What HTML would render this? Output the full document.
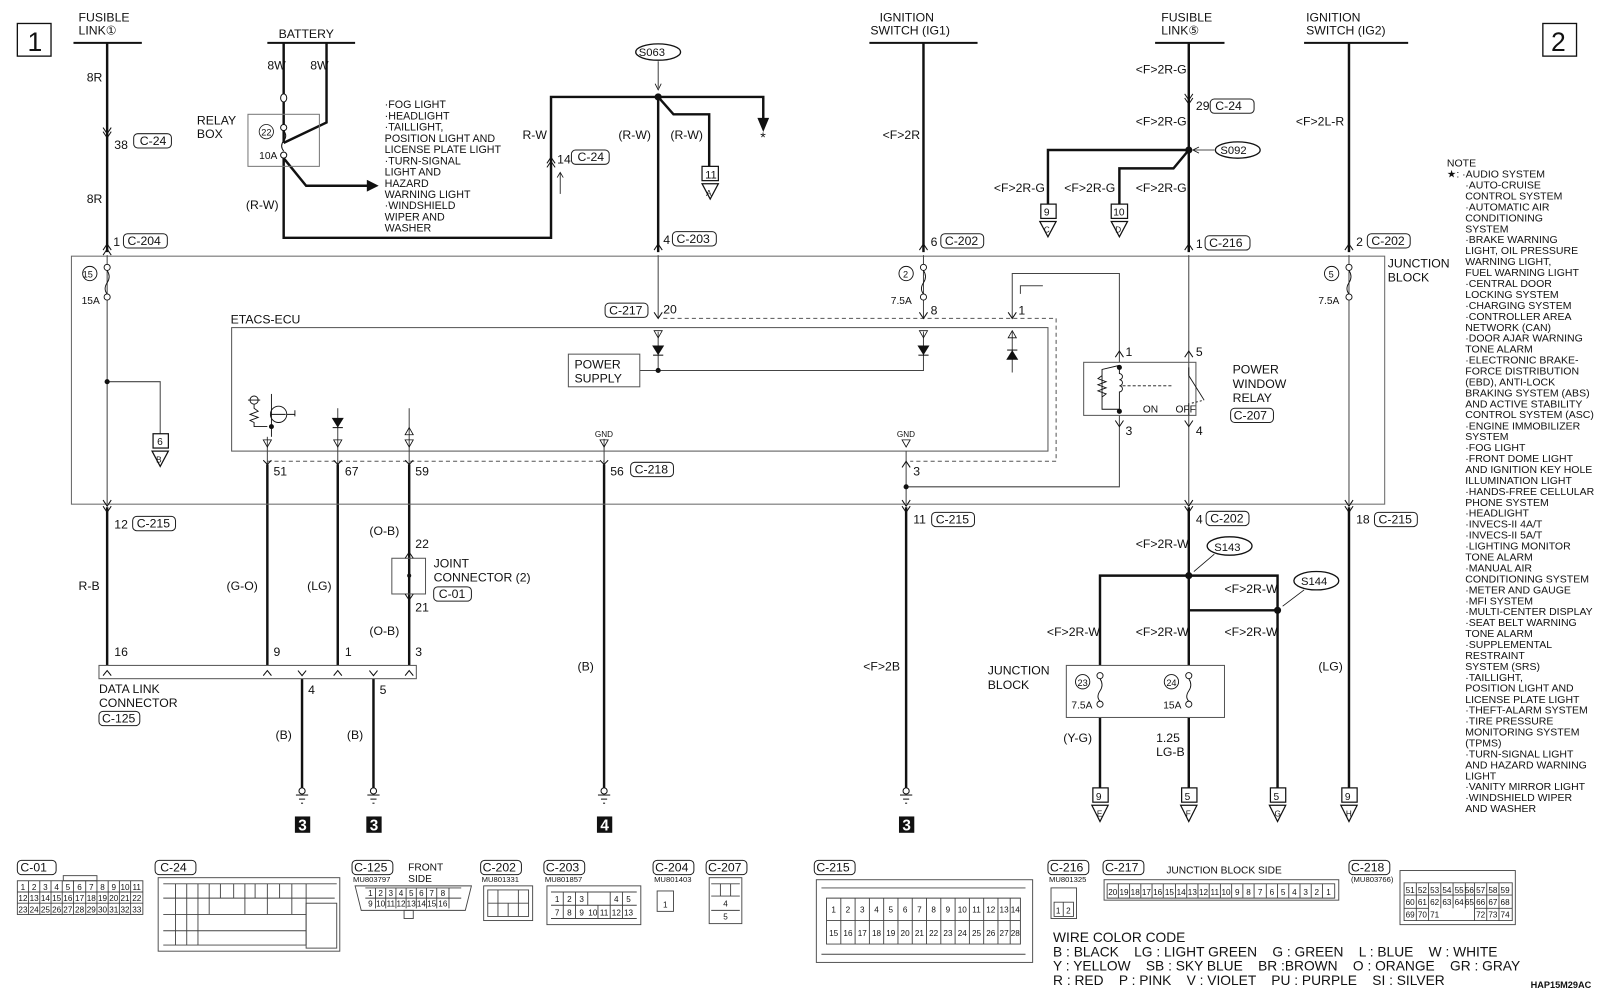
<!DOCTYPE html>
<html><head><meta charset="utf-8"><style>
html,body{margin:0;padding:0;background:#fff;}
svg{display:block;}
text{font-family:"Liberation Sans",sans-serif;fill:#111;white-space:pre;}
.t{font-size:12px;}
.s{font-size:10.5px;}
.b{font-weight:bold;}
.g text{font-size:8px;text-anchor:middle;}
</style></head><body>
<svg width="1600" height="992" viewBox="0 0 1568 972" preserveAspectRatio="none" xmlns="http://www.w3.org/2000/svg" xml:space="preserve">
<g stroke="#111" fill="none">
<rect x="17" y="23" width="33" height="32" stroke-width="1.3"/>
<rect x="1512" y="23" width="33" height="32" stroke-width="1.3"/>
<g stroke-width="2">
<line x1="72" y1="42" x2="139" y2="42"/>
<line x1="262" y1="42" x2="348" y2="42"/>
<line x1="852" y1="42" x2="958" y2="42"/>
<line x1="1132" y1="42" x2="1200" y2="42"/>
<line x1="1278" y1="42" x2="1380" y2="42"/>
</g>
<g stroke-width="2.4">
<line x1="105" y1="42" x2="105" y2="247"/>
<line x1="278" y1="42" x2="278" y2="140"/>
<polyline points="320,42 320,120 278,140"/>
<polyline points="278,155 278,233 540,233 540,95 748,95 748,118"/>
<polyline points="278,155 300,182 360,182"/>
<line x1="645" y1="95" x2="645" y2="247"/>
<polyline points="645,95 660,112 695,112 695,163"/>
<line x1="905" y1="42" x2="905" y2="247"/>
<line x1="1165" y1="42" x2="1165" y2="247"/>
<polyline points="1165,147 1027,147 1027,200"/>
<polyline points="1165,147 1150,165 1097,165 1097,200"/>
<line x1="1322" y1="42" x2="1322" y2="247"/>
<line x1="105" y1="497" x2="105" y2="652"/>
<line x1="262" y1="455" x2="262" y2="652"/>
<line x1="331" y1="455" x2="331" y2="652"/>
<line x1="401" y1="455" x2="401" y2="652"/>
<line x1="296" y1="665" x2="296" y2="772"/>
<line x1="366" y1="665" x2="366" y2="772"/>
<line x1="592" y1="455" x2="592" y2="772"/>
<line x1="888" y1="497" x2="888" y2="772"/>
<line x1="1165" y1="497" x2="1165" y2="652"/>
<polyline points="1078,652 1078,564 1252,564 1252,772"/>
<polyline points="1165,598 1252,598"/>
<line x1="1078" y1="703" x2="1078" y2="772"/>
<line x1="1165" y1="703" x2="1165" y2="772"/>
<line x1="1322" y1="497" x2="1322" y2="772"/>
</g>
<polygon points="360,177 370,182 360,187" fill="#111"/>
<polygon points="743,116 748,128 753,116" fill="#111"/>
<rect x="243" y="112" width="70" height="51" stroke="#777"/>
<ellipse cx="278" cy="96" rx="3" ry="4" stroke-width="1" fill="#fff"/>
<circle cx="278" cy="125" r="3" fill="#fff"/>
<circle cx="278" cy="152" r="3" fill="#fff"/>
<path d="M278,128 q4,5 0,10 q-4,5 0,10" />
<circle cx="261" cy="129" r="7" stroke-width="0.8"/>
<line x1="549" y1="190" x2="549" y2="170" stroke-width="0.8"/>
<path d="M546,174 L549,169 L552,174" stroke-width="0.8"/>
<ellipse cx="645" cy="51" rx="22" ry="8" stroke-width="1.3"/>
<line x1="645" y1="60" x2="645" y2="86" stroke-width="0.8"/>
<path d="M642,82 L645,88 L648,82" stroke-width="0.8"/>
<circle cx="645" cy="95" r="3" fill="#111"/>
<rect x="688" y="163" width="16" height="14" stroke-width="1.2"/>
<polygon points="688,180 704,180 696,195" stroke-width="1.2"/>
<rect x="70" y="251" width="1287" height="243" stroke="#666" stroke-width="1"/>
<rect x="227" y="321" width="800" height="121" stroke="#555"/>
<g stroke-dasharray="4,3" stroke="#555">
<polyline points="650,312 1035,312 1035,452 892,452"/>
<polyline points="262,452 592,452"/>
</g>
<g stroke="#444" stroke-width="1">
<line x1="105" y1="250" x2="105" y2="494"/>
<polyline points="105,374 157,374 157,425"/>
<line x1="645" y1="250" x2="645" y2="312"/>
<line x1="905" y1="250" x2="905" y2="312"/>
<line x1="645" y1="325" x2="645" y2="363"/>
<polyline points="627,363 905,363 905,325"/>
<polyline points="992,312 992,268 1097,268 1097,355"/>
<polyline points="1000,288 1000,280 1022,280"/>
<line x1="1165" y1="250" x2="1165" y2="494"/>
<line x1="1322" y1="250" x2="1322" y2="494"/>
<polyline points="1097,407 1097,477 888,477"/>
<line x1="888" y1="442" x2="888" y2="494"/>
<line x1="262" y1="428" x2="262" y2="455"/>
<line x1="331" y1="400" x2="331" y2="455"/>
<line x1="401" y1="400" x2="401" y2="455"/>
<line x1="592" y1="430" x2="592" y2="455"/>
<line x1="992" y1="325" x2="992" y2="365"/>
</g>
<circle cx="105" cy="374" r="2" fill="#111"/>
<circle cx="645" cy="363" r="2" fill="#111"/>
<circle cx="888" cy="477" r="2" fill="#111"/>
<g stroke-width="0.9" fill="#fff">
<circle cx="105" cy="262" r="3"/><circle cx="105" cy="291" r="3"/>
<circle cx="905" cy="262" r="3"/><circle cx="905" cy="291" r="3"/>
<circle cx="1322" cy="262" r="3"/><circle cx="1322" cy="291" r="3"/>
<circle cx="88" cy="268" r="7" fill="none"/>
<circle cx="888" cy="268" r="7" fill="none"/>
<circle cx="1305" cy="268" r="7" fill="none"/>
</g>
<g stroke-width="0.9">
<path d="M105,265 q4,6 0,12 q-4,6 0,11"/>
<path d="M905,265 q4,6 0,12 q-4,6 0,11"/>
<path d="M1322,265 q4,6 0,12 q-4,6 0,11"/>
</g>
<polygon points="640,339 650,339 645,347" fill="#111"/><line x1="640" y1="348" x2="650" y2="348"/>
<polygon points="900,339 910,339 905,347" fill="#111"/><line x1="900" y1="348" x2="910" y2="348"/>
<polygon points="987,352 997,352 992,344" fill="#111"/><line x1="987" y1="343" x2="997" y2="343"/>
<polygon points="326,410 336,410 331,418" fill="#111"/><line x1="326" y1="419" x2="336" y2="419"/>
<g stroke-width="0.8">
<polygon points="641,324 649,324 645,331"/><polygon points="901,324 909,324 905,331"/>
<polygon points="988,331 996,331 992,324"/>
<polygon points="258,431 266,431 262,438"/><polygon points="327,431 335,431 331,438"/>
<polygon points="397,431 405,431 401,438"/><polygon points="397,426 405,426 401,419"/>
<polygon points="588,431 596,431 592,438"/><polygon points="884,431 892,431 888,438"/>
</g>
<g stroke-width="0.9">
<circle cx="249" cy="392" r="4"/>
<line x1="243" y1="392" x2="255" y2="392"/>
<path d="M249,396 v4 l4,3 l-8,3 l8,3 l-8,3 l4,2 v4 h13"/>
<line x1="266" y1="386" x2="266" y2="428"/>
<circle cx="273" cy="406" r="8"/>
<path d="M266,406 h14 M281,406 h8 M289,402 v6"/>
<circle cx="266" cy="418" r="2" fill="#111"/>
</g>
<rect x="557" y="347" width="70" height="32" stroke="#555"/>
<rect x="1062" y="355" width="110" height="52" stroke="#555"/>
<g stroke-width="0.9">
<polyline points="1097,358 1080,362 1080,401 1097,401"/>
<path d="M1080,368 l-4,3 l8,3 l-8,3 l8,3 l-8,3 l8,3 l-4,3"/>
<path d="M1097,362 v4 a3,3 0 0,1 0,6 a3,3 0 0,1 0,6 a3,3 0 0,1 0,6 v17"/>
<line x1="1100" y1="378" x2="1150" y2="378" stroke-dasharray="3,2"/>
<line x1="1165" y1="360" x2="1165" y2="368"/><line x1="1165" y1="368" x2="1180" y2="392"/>
<line x1="1165" y1="395" x2="1165" y2="407"/>
<line x1="1168" y1="395" x2="1180" y2="392" stroke-dasharray="2,2"/>
</g>
<circle cx="1097" cy="360" r="2" fill="#111"/><circle cx="1097" cy="403" r="2" fill="#111"/>
<ellipse cx="1213" cy="147" rx="22" ry="8" stroke-width="1.3"/>
<line x1="1190" y1="147" x2="1170" y2="147" stroke-width="0.8"/>
<path d="M1175,144 L1169,147 L1175,150" stroke-width="0.8"/>
<circle cx="1165" cy="147" r="3" fill="#111"/>
<rect x="1020" y="200" width="15" height="14" stroke-width="1.2"/>
<polygon points="1019,217 1035,217 1027,232" stroke-width="1.2"/>
<rect x="1089" y="200" width="16" height="14" stroke-width="1.2"/>
<polygon points="1089,217 1105,217 1097,232" stroke-width="1.2"/>
<rect x="150" y="425" width="15" height="14" stroke-width="1.2"/>
<polygon points="149,442 165,442 157,457" stroke-width="1.2"/>
<rect x="97" y="652" width="311" height="13" stroke="#555"/>
<rect x="384" y="547" width="33" height="35" stroke="#555"/>
<circle cx="401" cy="564" r="1.5" fill="#111"/>
<ellipse cx="1205" cy="535" rx="22" ry="9" stroke-width="1.3"/>
<line x1="1190" y1="543" x2="1170" y2="560" stroke-width="0.8"/>
<ellipse cx="1290" cy="569" rx="22" ry="9" stroke-width="1.3"/>
<line x1="1278" y1="578" x2="1257" y2="594" stroke-width="0.8"/>
<circle cx="1165" cy="564" r="3" fill="#111"/><circle cx="1252" cy="598" r="3" fill="#111"/>
<rect x="1045" y="652" width="155" height="51" stroke="#555"/>
<g stroke-width="0.9" fill="#fff">
<circle cx="1078" cy="662" r="3"/><circle cx="1078" cy="690" r="3"/>
<circle cx="1165" cy="662" r="3"/><circle cx="1165" cy="690" r="3"/>
<circle cx="1061" cy="668" r="7" fill="none"/><circle cx="1148" cy="668" r="7" fill="none"/>
</g>
<path d="M1078,665 q4,6 0,12 q-4,6 0,10" stroke-width="0.9"/>
<path d="M1165,665 q4,6 0,12 q-4,6 0,10" stroke-width="0.9"/>
<g stroke-width="1.2">
<rect x="1071" y="772" width="15" height="14"/><polygon points="1070,789 1086,789 1078,805"/>
<rect x="1158" y="772" width="15" height="14"/><polygon points="1157,789 1173,789 1165,805"/>
<rect x="1245" y="772" width="15" height="14"/><polygon points="1244,789 1260,789 1252,805"/>
<rect x="1315" y="772" width="15" height="14"/><polygon points="1314,789 1330,789 1322,805"/>
</g>
<g stroke-width="1">
<circle cx="296" cy="775" r="3"/><line x1="290" y1="779" x2="302" y2="779"/><line x1="293" y1="783" x2="299" y2="783"/><line x1="295" y1="787" x2="297" y2="787"/>
<circle cx="366" cy="775" r="3"/><line x1="360" y1="779" x2="372" y2="779"/><line x1="363" y1="783" x2="369" y2="783"/><line x1="365" y1="787" x2="367" y2="787"/>
<circle cx="592" cy="775" r="3"/><line x1="586" y1="779" x2="598" y2="779"/><line x1="589" y1="783" x2="595" y2="783"/><line x1="591" y1="787" x2="593" y2="787"/>
<circle cx="888" cy="775" r="3"/><line x1="882" y1="779" x2="894" y2="779"/><line x1="885" y1="783" x2="891" y2="783"/><line x1="887" y1="787" x2="889" y2="787"/>
</g>
<g stroke-width="1">
<path d="M101,245 L105,239 L109,245 M101,250 L105,244 L109,250"/>
<path d="M641,245 L645,239 L649,245"/>
<path d="M901,245 L905,239 L909,245"/>
<path d="M1161,245 L1165,239 L1169,245"/>
<path d="M1318,245 L1322,239 L1326,245"/>
<path d="M101,125 L105,131 L109,125 M101,129 L105,135 L109,129"/>
<path d="M1161,92 L1165,98 L1169,92 M1161,96 L1165,102 L1169,96"/>
<path d="M536,160 L540,154 L544,160 M536,164 L540,158 L544,164"/>
<path d="M641,306 L645,312 L649,306"/><path d="M901,306 L905,312 L909,306"/><path d="M988,306 L992,312 L996,306"/>
<path d="M1093,350 L1097,344 L1101,350"/><path d="M1161,350 L1165,344 L1169,350"/>
<path d="M1093,412 L1097,418 L1101,412"/><path d="M1161,412 L1165,418 L1169,412"/>
<path d="M884,458 L888,452 L892,458"/>
<path d="M101,490 L105,496 L109,490 M101,496 L105,502 L109,496"/>
<path d="M884,490 L888,496 L892,490 M884,496 L888,502 L892,496"/>
<path d="M1161,490 L1165,496 L1169,490 M1161,496 L1165,502 L1169,496"/>
<path d="M1318,490 L1322,496 L1326,490 M1318,496 L1322,502 L1326,496"/>
<path d="M258,451 L262,455 L266,451"/><path d="M327,451 L331,455 L335,451"/><path d="M397,451 L401,455 L405,451"/><path d="M588,451 L592,455 L596,451"/>
<path d="M397,547 L401,541 L405,547"/><path d="M397,582 L401,588 L405,582"/>
<path d="M101,662 L105,657 L109,662"/><path d="M258,662 L262,657 L266,662"/><path d="M327,662 L331,657 L335,662"/><path d="M397,662 L401,657 L405,662"/>
<path d="M292,657 L296,662 L300,657"/><path d="M362,657 L366,662 L370,657"/>
</g>
<g stroke-width="1" stroke="#222">
<rect x="131" y="131" width="37" height="14" rx="4"/>
<rect x="121" y="229" width="43" height="14" rx="4"/>
<rect x="560" y="147" width="37" height="14" rx="4"/>
<rect x="659" y="227" width="43" height="14" rx="4"/>
<rect x="593" y="297" width="42" height="14" rx="4"/>
<rect x="922" y="229" width="42" height="14" rx="4"/>
<rect x="1186" y="97" width="43" height="14" rx="4"/>
<rect x="1181" y="231" width="44" height="14" rx="4"/>
<rect x="1340" y="229" width="42" height="14" rx="4"/>
<rect x="1206" y="400" width="42" height="14" rx="4"/>
<rect x="618" y="453" width="42" height="14" rx="4"/>
<rect x="130" y="506" width="42" height="14" rx="4"/>
<rect x="425" y="575" width="37" height="14" rx="4"/>
<rect x="97" y="697" width="40" height="14" rx="4"/>
<rect x="913" y="502" width="42" height="14" rx="4"/>
<rect x="1182" y="501" width="42" height="14" rx="4"/>
<rect x="1347" y="502" width="42" height="14" rx="4"/>
<rect x="17" y="843" width="38" height="14" rx="4"/>
<rect x="152" y="843" width="40" height="14" rx="4"/>
<rect x="345" y="843" width="40" height="14" rx="4"/>
<rect x="471" y="843" width="40" height="14" rx="4"/>
<rect x="533" y="843" width="40" height="14" rx="4"/>
<rect x="640" y="843" width="40" height="14" rx="4"/>
<rect x="692" y="843" width="40" height="14" rx="4"/>
<rect x="798" y="843" width="40" height="14" rx="4"/>
<rect x="1027" y="843" width="40" height="14" rx="4"/>
<rect x="1081" y="843" width="40" height="14" rx="4"/>
<rect x="1322" y="843" width="40" height="14" rx="4"/>
</g>
<g stroke="#444" stroke-width="0.9">
<rect x="17" y="863" width="123" height="33"/>
<path d="M17,874 H140 M17,885 H140 M28,863 V896 M39,863 V896 M50,863 V896 M61,863 V896 M72,863 V896 M84,863 V896 M95,863 V896 M106,863 V896 M117,863 V896 M128,863 V896"/>
<rect x="62" y="858" width="33" height="5"/>
<rect x="155" y="860" width="178" height="72"/>
<path d="M160,866 H330 M160,880 H328 M160,896 H300 M160,912 H300 M160,926 H300 M172,866 V926 M183,866 V926 M194,866 V926 M205,866 V896 M216,866 V880 M229,866 V880 M240,866 V896 M250,866 V880 M262,866 V896 M274,866 V880 M286,866 V896 M300,866 V926"/>
<rect x="300" y="885" width="30" height="44"/>
<path d="M348,868 H462 L456,892 H354 Z"/>
<path d="M358,870 H452 M358,880 H452 M368,870 V890 M378,870 V890 M388,870 V890 M398,870 V890 M408,870 V890 M418,870 V890 M428,870 V890 M440,870 V890"/>
<rect x="396" y="892" width="9" height="8"/>
<rect x="474" y="868" width="48" height="34"/>
<path d="M478,872 H518 V898 H478 Z M478,885 H518 M488,872 V898 M498,885 V898 M508,872 V898"/>
<rect x="536" y="868" width="92" height="38"/>
<path d="M540,874 H624 M540,887 H624 M540,900 H624 M552,874 V900 M564,874 V900 M576,874 V887 M598,874 V900 M610,874 V900 M586,887 V900"/>
<rect x="644" y="873" width="16" height="20"/>
<rect x="695" y="860" width="32" height="45"/>
<path d="M697,866 H725 M697,878 H725 M697,892 H725 M706,866 V878 M716,866 V878"/>
<rect x="800" y="862" width="212" height="81"/>
<path d="M805,870 H1005 M805,935 H1005 M810,880 H1000 V925 H810 Z M810,902 H1000 M824,880 V925 M838,880 V925 M852,880 V925 M866,880 V925 M880,880 V925 M894,880 V925 M908,880 V925 M922,880 V925 M936,880 V925 M950,880 V925 M964,880 V925 M978,880 V925 M990,880 V925"/>
<rect x="1030" y="870" width="25" height="30"/>
<path d="M1033,884 H1052 V898 H1033 Z M1042,884 V898"/>
<rect x="1082" y="862" width="230" height="20"/>
<path d="M1085,866 H1308 V880 H1085 Z M1096,866 V880 M1107,866 V880 M1118,866 V880 M1129,866 V880 M1140,866 V880 M1152,866 V880 M1163,866 V880 M1174,866 V880 M1185,866 V880 M1196,866 V880 M1207,866 V880 M1218,866 V880 M1229,866 V880 M1241,866 V880 M1252,866 V880 M1263,866 V880 M1274,866 V880 M1285,866 V880 M1296,866 V880"/>
<rect x="1372" y="853" width="113" height="53"/>
<path d="M1376,865 H1482 V902 H1376 Z M1376,877 H1482 M1376,890 H1400 M1445,890 H1482 M1388,865 V902 M1400,865 V902 M1412,865 V890 M1424,865 V890 M1436,865 V890 M1445,865 V902 M1457,865 V902 M1469,865 V902"/>
</g>
</g>
<!-- connector numbers -->
<g class="g">
<text x="22.5" y="872">1</text><text x="33.5" y="872">2</text><text x="44.5" y="872">3</text><text x="55.5" y="872">4</text><text x="66.5" y="872">5</text><text x="78" y="872">6</text><text x="89.5" y="872">7</text><text x="100.5" y="872">8</text><text x="111.5" y="872">9</text><text x="122.5" y="872">10</text><text x="134" y="872">11</text>
<text x="22.5" y="883">12</text><text x="33.5" y="883">13</text><text x="44.5" y="883">14</text><text x="55.5" y="883">15</text><text x="66.5" y="883">16</text><text x="78" y="883">17</text><text x="89.5" y="883">18</text><text x="100.5" y="883">19</text><text x="111.5" y="883">20</text><text x="122.5" y="883">21</text><text x="134" y="883">22</text>
<text x="22.5" y="894">23</text><text x="33.5" y="894">24</text><text x="44.5" y="894">25</text><text x="55.5" y="894">26</text><text x="66.5" y="894">27</text><text x="78" y="894">28</text><text x="89.5" y="894">29</text><text x="100.5" y="894">30</text><text x="111.5" y="894">31</text><text x="122.5" y="894">32</text><text x="134" y="894">33</text>
<text x="817" y="894">1</text><text x="831" y="894">2</text><text x="845" y="894">3</text><text x="859" y="894">4</text><text x="873" y="894">5</text><text x="887" y="894">6</text><text x="901" y="894">7</text><text x="915" y="894">8</text><text x="929" y="894">9</text><text x="943" y="894">10</text><text x="957" y="894">11</text><text x="971" y="894">12</text><text x="984" y="894">13</text><text x="995" y="894">14</text>
<text x="817" y="917">15</text><text x="831" y="917">16</text><text x="845" y="917">17</text><text x="859" y="917">18</text><text x="873" y="917">19</text><text x="887" y="917">20</text><text x="901" y="917">21</text><text x="915" y="917">22</text><text x="929" y="917">23</text><text x="943" y="917">24</text><text x="957" y="917">25</text><text x="971" y="917">26</text><text x="984" y="917">27</text><text x="995" y="917">28</text>
<text x="1090.5" y="877">20</text><text x="1101.5" y="877">19</text><text x="1112.5" y="877">18</text><text x="1123.5" y="877">17</text><text x="1134.5" y="877">16</text><text x="1146" y="877">15</text><text x="1157.5" y="877">14</text><text x="1168.5" y="877">13</text><text x="1179.5" y="877">12</text><text x="1190.5" y="877">11</text><text x="1201.5" y="877">10</text><text x="1212.5" y="877">9</text><text x="1223.5" y="877">8</text><text x="1235" y="877">7</text><text x="1246.5" y="877">6</text><text x="1257.5" y="877">5</text><text x="1268.5" y="877">4</text><text x="1279.5" y="877">3</text><text x="1290.5" y="877">2</text><text x="1302" y="877">1</text>
<text x="1382" y="875">51</text><text x="1394" y="875">52</text><text x="1406" y="875">53</text><text x="1418" y="875">54</text><text x="1430" y="875">55</text><text x="1440" y="875">56</text><text x="1451" y="875">57</text><text x="1463" y="875">58</text><text x="1475" y="875">59</text>
<text x="1382" y="887">60</text><text x="1394" y="887">61</text><text x="1406" y="887">62</text><text x="1418" y="887">63</text><text x="1430" y="887">64</text><text x="1440" y="887">65</text><text x="1451" y="887">66</text><text x="1463" y="887">67</text><text x="1475" y="887">68</text>
<text x="1382" y="899">69</text><text x="1394" y="899">70</text><text x="1406" y="899">71</text><text x="1451" y="899">72</text><text x="1463" y="899">73</text><text x="1475" y="899">74</text>
<text x="363" y="878">1</text><text x="373" y="878">2</text><text x="383" y="878">3</text><text x="393" y="878">4</text><text x="403" y="878">5</text><text x="413" y="878">6</text><text x="423" y="878">7</text><text x="434" y="878">8</text>
<text x="363" y="888">9</text><text x="373" y="888">10</text><text x="383" y="888">11</text><text x="393" y="888">12</text><text x="403" y="888">13</text><text x="413" y="888">14</text><text x="423" y="888">15</text><text x="434" y="888">16</text>
<text x="546" y="884">1</text><text x="558" y="884">2</text><text x="570" y="884">3</text><text x="604" y="884">4</text><text x="616" y="884">5</text><text x="620" y="884"></text>
<text x="546" y="897">7</text><text x="558" y="897">8</text><text x="570" y="897">9</text><text x="581" y="897">10</text><text x="592" y="897">11</text><text x="604" y="897">12</text><text x="616" y="897">13</text>
<text x="711" y="888">4</text><text x="711" y="901">5</text><text x="652" y="889">1</text>
<text x="1037" y="895">1</text><text x="1047" y="895">2</text>
</g>
<g>
<rect x="289" y="800" width="15" height="16" fill="#111"/><text x="296.5" y="814" class="b" font-size="15" text-anchor="middle" style="fill:#fff">3</text>
<rect x="359" y="800" width="15" height="16" fill="#111"/><text x="366.5" y="814" class="b" font-size="15" text-anchor="middle" style="fill:#fff">3</text>
<rect x="585" y="800" width="15" height="16" fill="#111"/><text x="592.5" y="814" class="b" font-size="15" text-anchor="middle" style="fill:#fff">4</text>
<rect x="881" y="800" width="15" height="16" fill="#111"/><text x="888.5" y="814" class="b" font-size="15" text-anchor="middle" style="fill:#fff">3</text>
</g>
<g class="t">
<text x="27" y="50" font-size="26">1</text>
<text x="1520" y="50" font-size="26">2</text>
<text x="77" y="21">FUSIBLE</text><text x="77" y="34">LINK①</text>
<text x="273" y="37">BATTERY</text>
<text x="862" y="21">IGNITION</text><text x="853" y="34">SWITCH (IG1)</text>
<text x="1138" y="21">FUSIBLE</text><text x="1138" y="34">LINK⑤</text>
<text x="1280" y="21">IGNITION</text><text x="1280" y="34">SWITCH (IG2)</text>
<text x="85" y="80">8R</text><text x="85" y="199">8R</text>
<text x="112" y="146">38</text><text x="137" y="142">C-24</text>
<text x="111" y="241">1</text><text x="125" y="240">C-204</text>
<text x="262" y="68">8W</text><text x="304" y="68">8W</text>
<text x="193" y="122">RELAY</text><text x="193" y="135">BOX</text>
<text x="256" y="133" font-size="9">22</text><text x="254" y="156" font-size="10">10A</text>
<text x="241" y="205">(R-W)</text>
<text x="512" y="136">R-W</text>
<text x="606" y="136">(R-W)</text><text x="657" y="136">(R-W)</text>
<text x="546" y="160">14</text><text x="566" y="158">C-24</text>
<text x="691" y="175" font-size="11">11</text><text x="692" y="192" font-size="8">A</text>
<text x="745" y="139" font-size="14">*</text>
<text x="650" y="239">4</text><text x="663" y="238">C-203</text>
<text x="597" y="308">C-217</text><text x="650" y="307">20</text>
<text x="226" y="317">ETACS-ECU</text>
<text x="563" y="361">POWER</text><text x="563" y="375">SUPPLY</text>
<text x="81" y="272" font-size="9">15</text><text x="80" y="298" font-size="10">15A</text>
<text x="154" y="436" font-size="10">6</text><text x="153" y="453" font-size="8">B</text>
<text x="583" y="428" font-size="8">GND</text><text x="879" y="428" font-size="8">GND</text>
<text x="268" y="466">51</text><text x="338" y="466">67</text><text x="407" y="466">59</text>
<text x="598" y="466">56</text><text x="622" y="464">C-218</text>
<text x="865" y="136">&lt;F&gt;2R</text>
<text x="912" y="241">6</text><text x="926" y="240">C-202</text>
<text x="885" y="272" font-size="9">2</text><text x="873" y="298" font-size="10">7.5A</text>
<text x="912" y="308">8</text><text x="998" y="308">1</text>
<text x="1113" y="72">&lt;F&gt;2R-G</text><text x="1113" y="123">&lt;F&gt;2R-G</text>
<text x="1172" y="108">29</text><text x="1191" y="108">C-24</text>
<text x="1196" y="151" font-size="11">S092</text>
<text x="974" y="188">&lt;F&gt;2R-G</text><text x="1043" y="188">&lt;F&gt;2R-G</text><text x="1113" y="188">&lt;F&gt;2R-G</text>
<text x="1023" y="211" font-size="10">9</text><text x="1023" y="228" font-size="8">C</text>
<text x="1091" y="211" font-size="10">10</text><text x="1093" y="228" font-size="8">D</text>
<text x="1172" y="243">1</text><text x="1185" y="242">C-216</text>
<text x="1270" y="123">&lt;F&gt;2L-R</text>
<text x="1329" y="241">2</text><text x="1344" y="240">C-202</text>
<text x="1302" y="272" font-size="9">5</text><text x="1292" y="298" font-size="10">7.5A</text>
<text x="1360" y="262">JUNCTION</text><text x="1360" y="276">BLOCK</text>
<text x="1103" y="349">1</text><text x="1172" y="349">5</text>
<text x="1208" y="366">POWER</text><text x="1208" y="380">WINDOW</text><text x="1208" y="394">RELAY</text>
<text x="1120" y="404" font-size="10">ON</text><text x="1152" y="404" font-size="10">OFF</text>
<text x="1209" y="411">C-207</text>
<text x="1103" y="426">3</text><text x="1172" y="426">4</text>
<text x="895" y="466">3</text>
<text x="626" y="55" font-size="11">S063</text>
<text x="112" y="518">12</text><text x="134" y="517">C-215</text>
<text x="77" y="578">R-B</text>
<text x="222" y="578">(G-O)</text><text x="301" y="578">(LG)</text>
<text x="362" y="524">(O-B)</text><text x="407" y="537">22</text>
<text x="425" y="556">JOINT</text><text x="425" y="570">CONNECTOR (2)</text><text x="430" y="586">C-01</text>
<text x="407" y="599">21</text><text x="362" y="622">(O-B)</text>
<text x="112" y="643">16</text><text x="268" y="643">9</text><text x="338" y="643">1</text><text x="407" y="643">3</text>
<text x="97" y="679">DATA LINK</text><text x="97" y="693">CONNECTOR</text><text x="100" y="708">C-125</text>
<text x="302" y="680">4</text><text x="372" y="680">5</text>
<text x="270" y="724">(B)</text><text x="340" y="724">(B)</text>
<text x="566" y="657">(B)</text>
<text x="895" y="513">11</text><text x="917" y="513">C-215</text>
<text x="846" y="657">&lt;F&gt;2B</text>
<text x="1172" y="513">4</text><text x="1186" y="512">C-202</text>
<text x="1113" y="537">&lt;F&gt;2R-W</text>
<text x="1190" y="540" font-size="11">S143</text>
<text x="1200" y="581">&lt;F&gt;2R-W</text>
<text x="1275" y="573" font-size="11">S144</text>
<text x="1026" y="623">&lt;F&gt;2R-W</text><text x="1113" y="623">&lt;F&gt;2R-W</text><text x="1200" y="623">&lt;F&gt;2R-W</text>
<text x="968" y="661">JUNCTION</text><text x="968" y="675">BLOCK</text>
<text x="1056" y="672" font-size="9">23</text><text x="1143" y="672" font-size="9">24</text>
<text x="1050" y="694" font-size="10">7.5A</text><text x="1140" y="694" font-size="10">15A</text>
<text x="1042" y="727">(Y-G)</text>
<text x="1133" y="727">1.25</text><text x="1133" y="741">LG-B</text>
<text x="1329" y="513">18</text><text x="1351" y="513">C-215</text>
<text x="1292" y="657">(LG)</text>
<text x="1074" y="784" font-size="10">9</text><text x="1161" y="784" font-size="10">5</text><text x="1248" y="784" font-size="10">5</text><text x="1318" y="784" font-size="10">9</text>
<text x="1075" y="800" font-size="8">E</text><text x="1162" y="800" font-size="8">F</text><text x="1249" y="800" font-size="8">G</text><text x="1319" y="800" font-size="8">H</text>
</g>
<g class="s" font-size="10">
<text x="377" y="106">·FOG LIGHT</text><text x="377" y="117">·HEADLIGHT</text><text x="377" y="128">·TAILLIGHT,</text>
<text x="377" y="139">POSITION LIGHT AND</text><text x="377" y="150">LICENSE PLATE LIGHT</text><text x="377" y="161">·TURN-SIGNAL</text>
<text x="377" y="172">LIGHT AND</text><text x="377" y="183">HAZARD</text><text x="377" y="194">WARNING LIGHT</text>
<text x="377" y="205">·WINDSHIELD</text><text x="377" y="216">WIPER AND</text><text x="377" y="227">WASHER</text>
</g>
<g font-size="10.3">
<text x="1418" y="163">NOTE</text>
<text x="1418" y="174">★: ·AUDIO SYSTEM</text>
<text x="1436" y="184.7">·AUTO-CRUISE</text><text x="1436" y="195.4">CONTROL SYSTEM</text><text x="1436" y="206.2">·AUTOMATIC AIR</text><text x="1436" y="216.9">CONDITIONING</text><text x="1436" y="227.6">SYSTEM</text><text x="1436" y="238.3">·BRAKE WARNING</text><text x="1436" y="249">LIGHT, OIL PRESSURE</text><text x="1436" y="259.8">WARNING LIGHT,</text><text x="1436" y="270.5">FUEL WARNING LIGHT</text><text x="1436" y="281.2">·CENTRAL DOOR</text><text x="1436" y="291.9">LOCKING SYSTEM</text><text x="1436" y="302.6">·CHARGING SYSTEM</text><text x="1436" y="313.4">·CONTROLLER AREA</text><text x="1436" y="324.1">NETWORK (CAN)</text><text x="1436" y="334.8">·DOOR AJAR WARNING</text><text x="1436" y="345.5">TONE ALARM</text><text x="1436" y="356.2">·ELECTRONIC BRAKE-</text><text x="1436" y="367">FORCE DISTRIBUTION</text><text x="1436" y="377.7">(EBD), ANTI-LOCK</text><text x="1436" y="388.4">BRAKING SYSTEM (ABS)</text><text x="1436" y="399.1">AND ACTIVE STABILITY</text><text x="1436" y="409.8">CONTROL SYSTEM (ASC)</text><text x="1436" y="420.6">·ENGINE IMMOBILIZER</text><text x="1436" y="431.3">SYSTEM</text><text x="1436" y="442">·FOG LIGHT</text><text x="1436" y="452.7">·FRONT DOME LIGHT</text><text x="1436" y="463.4">AND IGNITION KEY HOLE</text><text x="1436" y="474.2">ILLUMINATION LIGHT</text><text x="1436" y="484.9">·HANDS-FREE CELLULAR</text><text x="1436" y="495.6">PHONE SYSTEM</text><text x="1436" y="506.3">·HEADLIGHT</text><text x="1436" y="517">·INVECS-II 4A/T</text><text x="1436" y="527.8">·INVECS-II 5A/T</text><text x="1436" y="538.5">·LIGHTING MONITOR</text><text x="1436" y="549.2">TONE ALARM</text><text x="1436" y="559.9">·MANUAL AIR</text><text x="1436" y="570.6">CONDITIONING SYSTEM</text><text x="1436" y="581.4">·METER AND GAUGE</text><text x="1436" y="592.1">·MFI SYSTEM</text><text x="1436" y="602.8">·MULTI-CENTER DISPLAY</text><text x="1436" y="613.5">·SEAT BELT WARNING</text><text x="1436" y="624.2">TONE ALARM</text><text x="1436" y="635">·SUPPLEMENTAL</text><text x="1436" y="645.7">RESTRAINT</text><text x="1436" y="656.4">SYSTEM (SRS)</text><text x="1436" y="667.1">·TAILLIGHT,</text><text x="1436" y="677.8">POSITION LIGHT AND</text><text x="1436" y="688.6">LICENSE PLATE LIGHT</text><text x="1436" y="699.3">·THEFT-ALARM SYSTEM</text><text x="1436" y="710">·TIRE PRESSURE</text><text x="1436" y="720.7">MONITORING SYSTEM</text><text x="1436" y="731.4">(TPMS)</text><text x="1436" y="742.2">·TURN-SIGNAL LIGHT</text><text x="1436" y="752.9">AND HAZARD WARNING</text><text x="1436" y="763.6">LIGHT</text><text x="1436" y="774.3">·VANITY MIRROR LIGHT</text><text x="1436" y="785">·WINDSHIELD WIPER</text><text x="1436" y="795.8">AND WASHER</text>
</g>
<g class="t">
<text x="20" y="854">C-01</text><text x="157" y="854">C-24</text><text x="347" y="854">C-125</text><text x="473" y="854">C-202</text><text x="535" y="854">C-203</text><text x="642" y="854">C-204</text><text x="694" y="854">C-207</text><text x="800" y="854">C-215</text><text x="1029" y="854">C-216</text><text x="1083" y="854">C-217</text><text x="1324" y="854">C-218</text>
<text x="400" y="853" font-size="10">FRONT</text><text x="400" y="864" font-size="10">SIDE</text>
<text x="1143" y="856" font-size="10">JUNCTION BLOCK SIDE</text>
</g>
<g font-size="7.5">
<text x="346" y="864">MU803797</text><text x="472" y="864">MU801331</text><text x="534" y="864">MU801857</text><text x="641" y="864">MU801403</text><text x="1028" y="864">MU801325</text><text x="1324" y="864">(MU803766)</text>
</g>
<g font-size="13.5">
<text x="1032" y="923">WIRE COLOR CODE</text>
<text x="1032" y="937">B : BLACK    LG : LIGHT GREEN    G : GREEN    L : BLUE    W : WHITE</text>
<text x="1032" y="951">Y : YELLOW    SB : SKY BLUE    BR :BROWN    O : ORANGE    GR : GRAY</text>
<text x="1032" y="965">R : RED    P : PINK    V : VIOLET    PU : PURPLE    SI : SILVER</text>
</g>
<text x="1500" y="968" font-size="9" font-weight="bold">HAP15M29AC</text>
</svg>
</body></html>
